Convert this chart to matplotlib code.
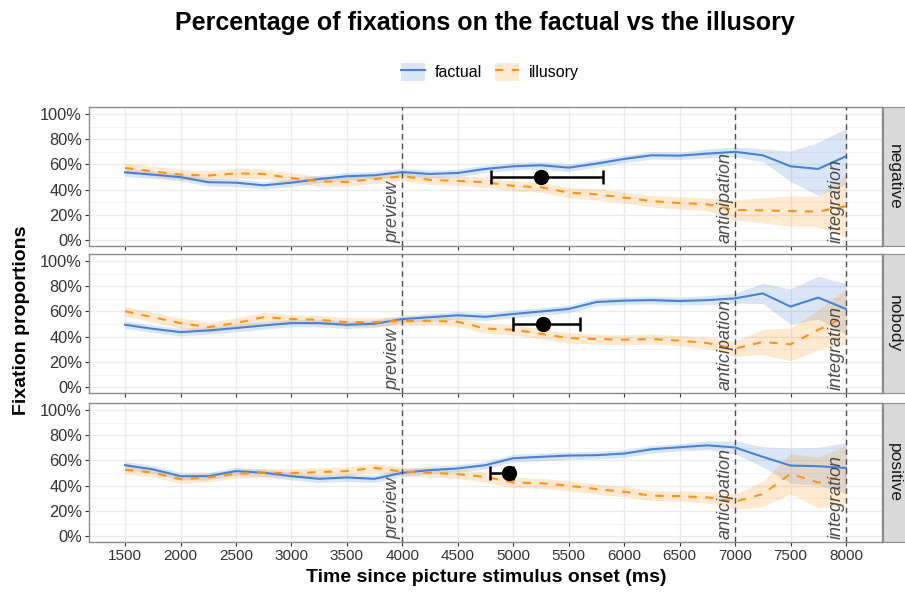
import numpy as np
import matplotlib
matplotlib.use("Agg")
import matplotlib.pyplot as plt
from matplotlib.patches import Patch
from matplotlib.lines import Line2D
from matplotlib.ticker import FuncFormatter, MultipleLocator

plt.rcParams['font.family'] = ['Liberation Sans', 'DejaVu Sans']

time_ms = [1500, 1750, 2000, 2250, 2500, 2750, 3000, 3250, 3500, 3750, 4000, 4250, 4500,
           4750, 5000, 5250, 5500, 5750, 6000, 6250, 6500, 6750, 7000, 7250, 7500, 7750, 8000]

panels = ["negative", "nobody", "positive"]

# factual proportions
factual = {
    "negative": [0.538, 0.52, 0.50, 0.46, 0.456, 0.435, 0.456, 0.485, 0.507, 0.515, 0.54, 0.525, 0.533,
                 0.565, 0.586, 0.594, 0.575, 0.607, 0.644, 0.673, 0.67, 0.686, 0.70, 0.673, 0.586, 0.565, 0.665],
    "nobody":   [0.495, 0.463, 0.437, 0.45, 0.469, 0.49, 0.508, 0.508, 0.495, 0.503, 0.54, 0.555, 0.57,
                 0.558, 0.58, 0.60, 0.62, 0.675, 0.686, 0.69, 0.683, 0.69, 0.704, 0.743, 0.639, 0.71, 0.62],
    "positive": [0.563, 0.53, 0.476, 0.476, 0.516, 0.503, 0.476, 0.455, 0.466, 0.455, 0.503, 0.524, 0.537,
                 0.563, 0.618, 0.629, 0.639, 0.642, 0.655, 0.689, 0.705, 0.72, 0.703, 0.629, 0.56, 0.555, 0.54],
}
factual_hw = {
    "negative": [0.03, 0.03, 0.03, 0.03, 0.03, 0.03, 0.03, 0.03, 0.03, 0.03, 0.03, 0.03, 0.03,
                 0.03, 0.03, 0.03, 0.03, 0.03, 0.03, 0.03, 0.03, 0.035, 0.04, 0.05, 0.12, 0.21, 0.22],
    "nobody":   [0.03, 0.03, 0.03, 0.03, 0.03, 0.03, 0.03, 0.03, 0.03, 0.03, 0.03, 0.03, 0.03,
                 0.03, 0.03, 0.03, 0.03, 0.03, 0.03, 0.03, 0.03, 0.035, 0.04, 0.08, 0.14, 0.17, 0.2],
    "positive": [0.03, 0.03, 0.03, 0.03, 0.03, 0.03, 0.03, 0.03, 0.03, 0.03, 0.03, 0.03, 0.03,
                 0.03, 0.03, 0.03, 0.03, 0.03, 0.03, 0.03, 0.03, 0.035, 0.05, 0.08, 0.14, 0.15, 0.2],
}
# illusory proportions
illusory = {
    "negative": [0.573, 0.546, 0.52, 0.512, 0.53, 0.525, 0.493, 0.467, 0.462, 0.485, 0.507, 0.478, 0.47,
                 0.46, 0.43, 0.42, 0.377, 0.364, 0.338, 0.31, 0.295, 0.285, 0.24, 0.237, 0.232, 0.227, 0.27],
    "nobody":   [0.602, 0.555, 0.508, 0.476, 0.508, 0.555, 0.54, 0.534, 0.516, 0.516, 0.526, 0.526, 0.518,
                 0.465, 0.455, 0.424, 0.39, 0.382, 0.377, 0.382, 0.369, 0.35, 0.306, 0.359, 0.34, 0.455, 0.56],
    "positive": [0.526, 0.505, 0.453, 0.466, 0.495, 0.503, 0.50, 0.508, 0.516, 0.542, 0.513, 0.503, 0.492,
                 0.47, 0.426, 0.42, 0.40, 0.374, 0.353, 0.321, 0.318, 0.308, 0.274, 0.334, 0.495, 0.426, 0.479],
}
illusory_hw = {
    "negative": [0.04, 0.04, 0.04, 0.04, 0.04, 0.04, 0.04, 0.04, 0.035, 0.035, 0.035, 0.035, 0.035,
                 0.04, 0.04, 0.04, 0.04, 0.045, 0.045, 0.045, 0.05, 0.05, 0.08, 0.1, 0.12, 0.12, 0.25],
    "nobody":   [0.04, 0.04, 0.04, 0.04, 0.04, 0.04, 0.035, 0.035, 0.035, 0.035, 0.035, 0.035, 0.035,
                 0.04, 0.04, 0.04, 0.04, 0.04, 0.04, 0.04, 0.04, 0.045, 0.06, 0.1, 0.13, 0.16, 0.22],
    "positive": [0.035, 0.035, 0.035, 0.035, 0.035, 0.035, 0.035, 0.035, 0.035, 0.035, 0.035, 0.035, 0.035,
                 0.04, 0.04, 0.04, 0.04, 0.04, 0.04, 0.04, 0.04, 0.045, 0.06, 0.1, 0.16, 0.2, 0.24],
}

# mean point with horizontal error bar (ms)
point_x = {"negative": 5250, "nobody": 5270, "positive": 4965}
point_xmin = {"negative": 4800, "nobody": 5000, "positive": 4795}
point_xmax = {"negative": 5810, "nobody": 5600, "positive": 5000}
point_y = {"negative": 0.50, "nobody": 0.50, "positive": 0.505}

event_x = [4000, 7000, 8000]
event_labels = ["preview", "anticipation", "integration"]

x_ticks = [1500, 2000, 2500, 3000, 3500, 4000, 4500, 5000, 5500, 6000, 6500, 7000, 7500, 8000]
y_ticks = [0, 0.2, 0.4, 0.6, 0.8, 1.0]

blue = '#4683D6'
orange = '#FF9318'
W, H = 905, 592
fig = plt.figure(figsize=(W / 100, H / 100), dpi=100)

panel_px = [(107, 246), (254, 393), (403, 542)]
left_px, right_px = 89, 882

for name, (top, bot) in zip(panels, panel_px):
    ax = fig.add_axes([left_px / W, 1 - bot / H, (right_px - left_px) / W, (bot - top) / H])
    ax.set_xlim(1175, 8325)
    ax.set_ylim(-0.045, 1.055)
    ax.set_facecolor('white')
    ax.yaxis.set_minor_locator(MultipleLocator(0.1))
    ax.grid(True, which='major', color='#EBEBEB', lw=1.0, zorder=0)
    ax.grid(True, which='minor', axis='y', color='#F2F2F2', lw=0.6, zorder=0)
    ax.set_axisbelow(True)
    for s in ax.spines.values():
        s.set_color('#8C8C8C')
        s.set_linewidth(1.0)

    f = np.array(factual[name]); fh = np.array(factual_hw[name])
    il = np.array(illusory[name]); ih = np.array(illusory_hw[name])
    ax.fill_between(time_ms, f - fh, f + fh, color=blue, alpha=0.2, lw=0, zorder=2)
    ax.fill_between(time_ms, il - ih, il + ih, color=orange, alpha=0.2, lw=0, zorder=2)
    ax.plot(time_ms, f, color=blue, lw=1.5, zorder=3)
    ax.plot(time_ms, il, color=orange, lw=1.5, dashes=(4, 4), zorder=3)

    for ex, lab in zip(event_x, event_labels):
        ax.axvline(ex, color='#4D4D4D', lw=1.0, dashes=(4, 3), zorder=4)
        ax.text(ex - 12, -0.02, lab, rotation=90, ha='right', va='bottom',
                fontsize=13, style='italic', color='#4D4D4D', zorder=5)

    px = point_x[name]
    ax.errorbar([px], [point_y[name]],
                xerr=[[px - point_xmin[name]], [point_xmax[name] - px]],
                fmt='o', color='black', ms=10, elinewidth=1.8, capsize=5, capthick=1.8, zorder=6)

    ax.set_xticks(x_ticks)
    ax.set_yticks(y_ticks)
    ax.yaxis.set_major_formatter(FuncFormatter(lambda v, p: f"{int(round(v * 100))}%"))
    ax.tick_params(axis='both', which='major', length=3, color='#333333', labelsize=11,
                   labelcolor='#333333', pad=2)
    ax.tick_params(axis='y', which='major', labelsize=11.8)
    ax.tick_params(axis='y', which='minor', length=0)
    if name != "positive":
        ax.tick_params(axis='x', labelbottom=False)

    sax = fig.add_axes([(right_px + 1) / W, 1 - bot / H, 23 / W, (bot - top) / H])
    sax.set_facecolor('#D9D9D9')
    sax.set_xticks([]); sax.set_yticks([])
    for s in sax.spines.values():
        s.set_color('#8C8C8C')
    sax.text(0.5, 0.5, name, rotation=-90, ha='center', va='center', fontsize=12.5,
             color='#1A1A1A', transform=sax.transAxes)

fig.text(0.536, 1 - 23 / H, "Percentage of fixations on the factual vs the illusory",
         ha='center', va='center', fontsize=18, fontweight='bold')
fig.text(0.537, 1 - 578 / H, "Time since picture stimulus onset (ms)",
         ha='center', va='center', fontsize=14, fontweight='bold')
fig.text(22 / W, 1 - 320 / H, "Fixation proportions", rotation=90,
         ha='center', va='center', fontsize=14, fontweight='bold')

h1 = (Patch(facecolor=blue, alpha=0.2, lw=0), Line2D([], [], color=blue, lw=1.5))
h2 = (Patch(facecolor=orange, alpha=0.2, lw=0), Line2D([], [], color=orange, lw=1.5, dashes=(4, 4)))
fig.legend([h1, h2], ["factual", "illusory"], loc='center', bbox_to_anchor=(490 / W, 1 - 72 / H),
           ncol=2, frameon=False, fontsize=11.5, handlelength=1.5, handleheight=1.4,
           columnspacing=0.8, handletextpad=0.6)

fig.savefig("out.png", dpi=100, facecolor='white')
